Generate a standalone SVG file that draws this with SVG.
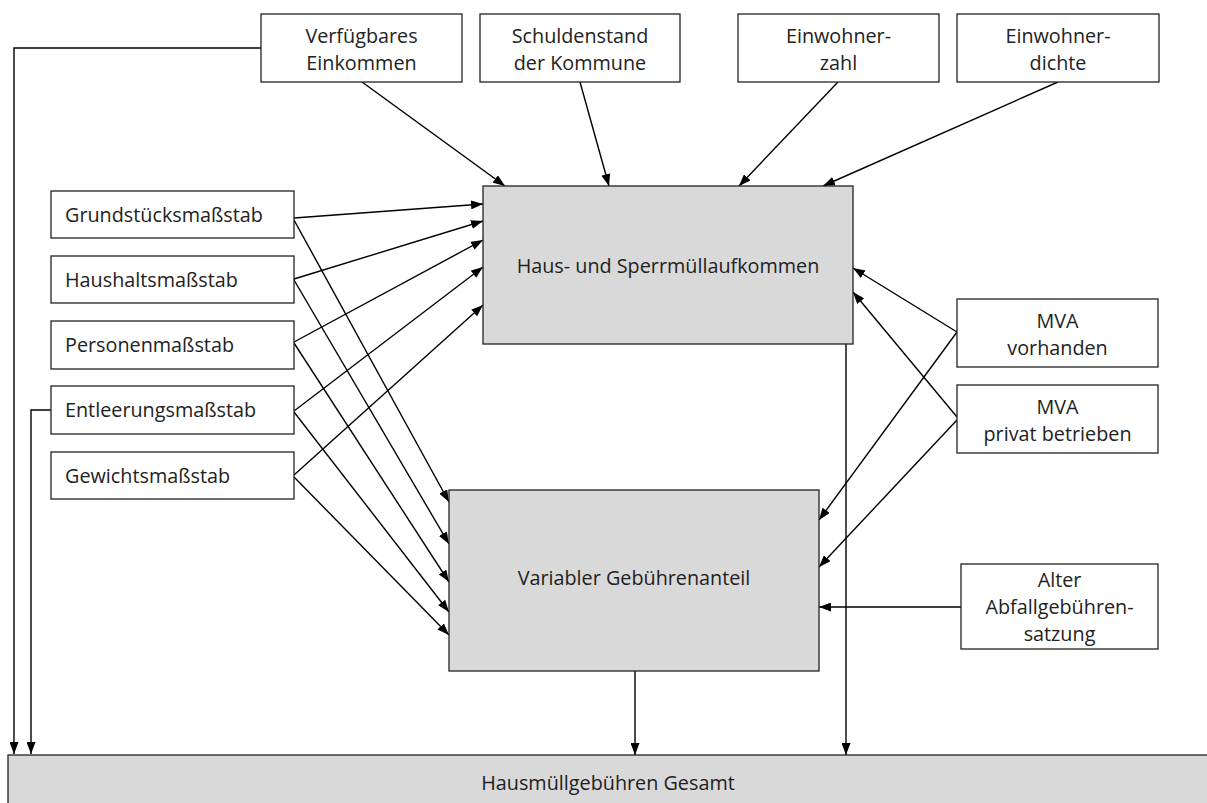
<svg xmlns="http://www.w3.org/2000/svg" width="1207" height="803" viewBox="0 0 1207 803">
<style>
.box{fill:#fff;stroke:#222;stroke-width:1.3}
.gbox{fill:#d9d9d9;stroke:#222;stroke-width:1.3}
.t{font-family:"Open Sans","Noto Sans",sans-serif;font-size:19.8px;fill:#222}
.c{text-anchor:middle}
.ln{fill:none;stroke:#000;stroke-width:1.4}
.ar{marker-end:url(#ah)}
</style>
<defs>
<marker id="ah" viewBox="0 0 12 9" refX="12" refY="4.5" markerWidth="12" markerHeight="9" markerUnits="userSpaceOnUse" orient="auto">
<path d="M0,0 L12,4.5 L0,9 Z" fill="#000"/>
</marker>
</defs>
<rect width="1207" height="803" fill="#fff"/>

<g id="connectors">
<polyline class="ln ar" points="261,48 14,48 14,754"/>
<polyline class="ln ar" points="51,410 31,410 31,754"/>
<line class="ln ar" x1="362" y1="82" x2="505" y2="186"/>
<line class="ln ar" x1="580" y1="82" x2="609" y2="186"/>
<line class="ln ar" x1="838" y1="82" x2="739" y2="186"/>
<line class="ln ar" x1="1058" y1="82" x2="823" y2="186"/>
<line class="ln ar" x1="294" y1="218" x2="483" y2="204"/>
<line class="ln ar" x1="294" y1="279" x2="483" y2="221"/>
<line class="ln ar" x1="294" y1="342" x2="483" y2="240"/>
<line class="ln ar" x1="294" y1="411" x2="483" y2="267"/>
<line class="ln ar" x1="294" y1="475" x2="483" y2="305"/>
<line class="ln ar" x1="294" y1="220" x2="449" y2="502"/>
<line class="ln ar" x1="294" y1="280" x2="449" y2="544"/>
<line class="ln ar" x1="294" y1="343" x2="449" y2="582"/>
<line class="ln ar" x1="294" y1="412" x2="449" y2="612"/>
<line class="ln ar" x1="294" y1="477" x2="449" y2="635"/>
<line class="ln ar" x1="957" y1="332" x2="853" y2="268"/>
<line class="ln ar" x1="957" y1="332" x2="819" y2="520"/>
<line class="ln ar" x1="957" y1="417" x2="853" y2="292"/>
<line class="ln ar" x1="957" y1="420" x2="819" y2="567"/>
<line class="ln ar" x1="961" y1="607" x2="819" y2="607"/>
<line class="ln ar" x1="846" y1="344" x2="846" y2="755"/>
<line class="ln ar" x1="635" y1="671" x2="635" y2="755"/>
</g>

<g id="verfuegbares">
<rect class="box" x="261" y="14" width="201" height="68"/>
<text class="t c" x="361.5" y="43">Verfügbares</text>
<text class="t c" x="361.5" y="70">Einkommen</text>
</g>
<g id="schuldenstand">
<rect class="box" x="480" y="14" width="200" height="68"/>
<text class="t c" x="580" y="43">Schuldenstand</text>
<text class="t c" x="580" y="70">der Kommune</text>
</g>
<g id="einwohnerzahl">
<rect class="box" x="738" y="14" width="201" height="68"/>
<text class="t c" x="838.5" y="43">Einwohner-</text>
<text class="t c" x="838.5" y="70">zahl</text>
</g>
<g id="einwohnerdichte">
<rect class="box" x="957" y="14" width="202" height="68"/>
<text class="t c" x="1058" y="43">Einwohner-</text>
<text class="t c" x="1058" y="70">dichte</text>
</g>

<g id="grundstueck">
<rect class="box" x="51" y="191" width="243" height="47"/>
<text class="t" x="65" y="222">Grundstücksmaßstab</text>
</g>
<g id="haushalt">
<rect class="box" x="51" y="256" width="243" height="47"/>
<text class="t" x="65" y="287">Haushaltsmaßstab</text>
</g>
<g id="personen">
<rect class="box" x="51" y="321" width="243" height="48"/>
<text class="t" x="65" y="352">Personenmaßstab</text>
</g>
<g id="entleerung">
<rect class="box" x="51" y="386" width="243" height="48"/>
<text class="t" x="65" y="417">Entleerungsmaßstab</text>
</g>
<g id="gewicht">
<rect class="box" x="51" y="452" width="243" height="47"/>
<text class="t" x="65" y="483">Gewichtsmaßstab</text>
</g>

<g id="hausaufkommen">
<rect class="gbox" x="483" y="186" width="370" height="158"/>
<text class="t c" x="668" y="273">Haus- und Sperrmüllaufkommen</text>
</g>
<g id="variabler">
<rect class="gbox" x="449" y="490" width="370" height="181"/>
<text class="t c" x="634" y="585">Variabler Gebührenanteil</text>
</g>

<g id="mva-vorhanden">
<rect class="box" x="957" y="299" width="201" height="68"/>
<text class="t c" x="1057.5" y="328">MVA</text>
<text class="t c" x="1057.5" y="355">vorhanden</text>
</g>
<g id="mva-privat">
<rect class="box" x="957" y="385" width="201" height="68"/>
<text class="t c" x="1057.5" y="414">MVA</text>
<text class="t c" x="1057.5" y="441">privat betrieben</text>
</g>
<g id="alter">
<rect class="box" x="961" y="564" width="197" height="85"/>
<text class="t c" x="1059.5" y="587">Alter</text>
<text class="t c" x="1059.5" y="614">Abfallgebühren-</text>
<text class="t c" x="1059.5" y="641">satzung</text>
</g>

<g id="gesamt">
<rect class="gbox" x="8" y="755" width="1210" height="60"/>
<text class="t c" x="608" y="790">Hausmüllgebühren Gesamt</text>
</g>
</svg>
